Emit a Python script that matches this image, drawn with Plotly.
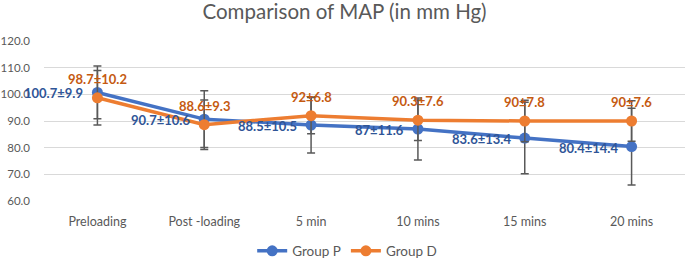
import plotly.graph_objects as go

categories = ["Preloading", "Post -loading", "5 min", "10 mins", "15 mins", "20 mins"]
group_p_mean = [100.7, 90.7, 88.5, 87.0, 83.6, 80.4]
group_p_sd = [9.9, 10.6, 10.5, 11.6, 13.4, 14.4]
group_p_labels = ["100.7±9.9", "90.7±10.6", "88.5±10.5", "87±11.6", "83.6±13.4", "80.4±14.4"]
group_d_mean = [98.7, 88.6, 92.0, 90.3, 90.0, 90.0]
group_d_sd = [10.2, 9.3, 6.8, 7.6, 7.8, 7.6]
group_d_labels = ["98.7±10.2", "88.6±9.3", "92±6.8", "90.3±7.6", "90±7.8", "90±7.6"]
y_ticks = [60, 70, 80, 90, 100, 110, 120]

FONT = "Lato"
fig = go.Figure()
fig.add_trace(go.Scatter(
    x=categories, y=group_p_mean, name="Group P", mode="lines+markers",
    line=dict(color="#4472C4", width=3.5), marker=dict(color="#4472C4", size=11),
    error_y=dict(type="data", array=group_p_sd, visible=True, color="#595959", thickness=1.5, width=4),
    cliponaxis=False,
))
fig.add_trace(go.Scatter(
    x=categories, y=group_d_mean, name="Group D", mode="lines+markers",
    line=dict(color="#ED7D31", width=3.5), marker=dict(color="#ED7D31", size=11),
    error_y=dict(type="data", array=group_d_sd, visible=True, color="#595959", thickness=1.5, width=4),
    cliponaxis=False,
))

annotations = []
for cat, val, lab in zip(categories, group_p_mean, group_p_labels):
    annotations.append(dict(x=cat, y=val, text=lab, showarrow=False, xanchor="right", yanchor="middle",
                            xshift=-12, yshift=-1,
                            font=dict(color="#2F5597", size=13, family=FONT, weight="bold")))
for cat, val, lab in zip(categories, group_d_mean, group_d_labels):
    annotations.append(dict(x=cat, y=val, text=lab, showarrow=False, xanchor="center", yanchor="middle",
                            yshift=19,
                            font=dict(color="#C55A11", size=13, family=FONT, weight="bold")))

fig.update_layout(
    width=685, height=258,
    margin=dict(l=44, r=0, t=41, b=57, autoexpand=False),
    paper_bgcolor="white", plot_bgcolor="white",
    font=dict(family=FONT, color="#595959", size=12),
    title=dict(text="Comparison of MAP (in mm Hg)", x=0.503, xanchor="center", y=0.953, yanchor="middle",
               font=dict(size=20.5, color="#595959", family=FONT)),
    showlegend=True,
    legend=dict(orientation="h", x=0.473, xanchor="center", yref="container", y=0.027, yanchor="middle",
                font=dict(size=13.5, color="#595959"), itemwidth=30),
    annotations=annotations,
    xaxis=dict(type="category", range=[-0.5, 5.5], showgrid=False, showline=False, zeroline=False,
               ticks="", ticklabelstandoff=11, tickfont=dict(size=12.5, color="#595959")),
    yaxis=dict(range=[60, 120], tickvals=y_ticks, ticktext=[f"{v:.1f}" for v in y_ticks],
               showgrid=True, gridcolor="#D9D9D9", gridwidth=1, zeroline=False, showline=False,
               ticks="", ticklabelstandoff=13, tickfont=dict(size=11.5, color="#595959")),
)
fig.write_html("out.html", config={"displayModeBar": False},
               post_script="document.body.style.margin='0px';")
